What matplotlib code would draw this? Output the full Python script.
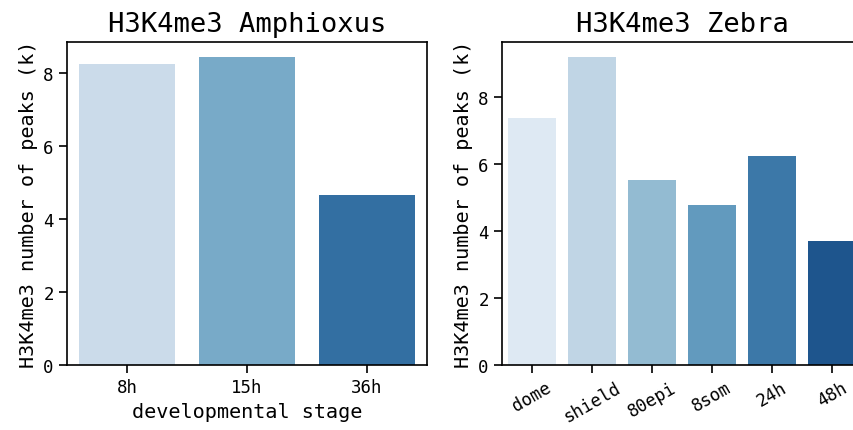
import matplotlib
matplotlib.use("Agg")
import matplotlib.pyplot as plt
import seaborn as sns

plt.rcParams['font.family'] = ['DejaVu Sans Mono']

# Amphioxus H3K4me3 peaks (thousands)
amphi_stages = ['8h', '15h', '36h']
amphi_peaks = [8.26, 8.43, 4.65]

# Zebrafish H3K4me3 peaks (thousands)
zebra_stages = ['dome', 'shield', '80epi', '8som', '24h', '48h']
zebra_peaks = [7.39, 9.19, 5.53, 4.77, 6.25, 3.69]

ylabel = 'H3K4me3 number of peaks (k)'

W, H = 854, 431
fig = plt.figure(figsize=(W / 100, H / 100), dpi=100)

# right panel runs past the figure edge, as in the original
ax1 = fig.add_axes([67 / W, 65 / H, 360 / W, 323 / H])
ax2 = fig.add_axes([502 / W, 65 / H, 360 / W, 323 / H])


def draw(ax, stages, peaks, title):
    cols = [sns.desaturate(c, 0.75) for c in sns.color_palette('Blues', len(stages))]
    ax.bar(range(len(stages)), peaks, width=0.8, color=cols)
    ax.set_xticks(range(len(stages)))
    ax.set_xticklabels(stages)
    ax.set_xlim(-0.5, len(stages) - 0.5)
    ax.set_ylim(0, max(peaks) * 1.05)
    ax.set_yticks([0, 2, 4, 6, 8])
    ax.set_title(title, fontsize=19.5, pad=8)
    ax.set_ylabel(ylabel, fontsize=14.5)
    ax.tick_params(labelsize=12.5, length=6, width=1.2)
    for s in ax.spines.values():
        s.set_linewidth(1.2)


draw(ax1, amphi_stages, amphi_peaks, 'H3K4me3 Amphioxus')
ax1.set_xlabel('developmental stage', fontsize=14.5)

draw(ax2, zebra_stages, zebra_peaks, 'H3K4me3 Zebra')
for lbl in ax2.get_xticklabels():
    lbl.set_rotation(30)

fig.savefig('out.png', dpi=100)
